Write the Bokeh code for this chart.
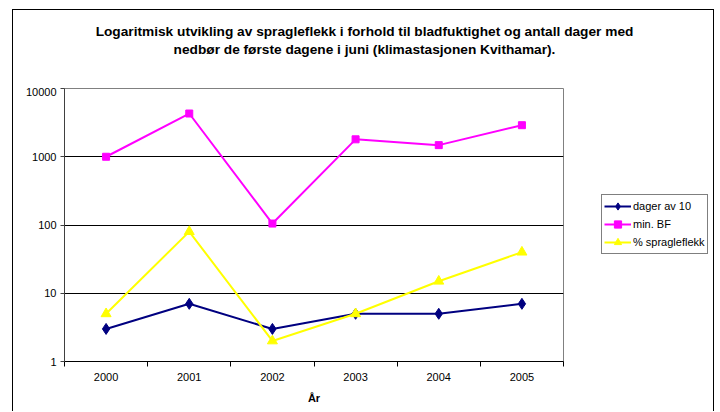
from bokeh.plotting import figure
from bokeh.models import FixedTicker, Label, Legend, LegendItem, Range1d
from bokeh.layouts import column, row
from bokeh.embed import file_html
from bokeh.resources import INLINE

years = ["2000", "2001", "2002", "2003", "2004", "2005"]
dager_av_10 = [3, 7, 3, 5, 5, 7]
min_bf = [1000, 4300, 105, 1800, 1480, 2900]
pct_spragleflekk = [5, 80, 2, 5, 15, 40]
y_ticks = [1, 10, 100, 1000, 10000]
y_labels = ["1", "10", "100", "1000", "10000"]
series_names = ["dager av 10", "min. BF", "% spragleflekk"]
title_lines = ["Logaritmisk utvikling av spragleflekk i forhold til bladfuktighet og antall dager med",
               "nedbør de første dagene i juni (klimastasjonen Kvithamar)."]
x_label = "År"

FONT = "Liberation Sans"
xs = [i + 0.5 for i in range(len(years))]
series = [dager_av_10, min_bf, pct_spragleflekk]
styles = [("#000080", "diamond", 11), ("#FF00FF", "square", 7), ("#FFFF00", "triangle", 10)]


def blank(width, height, x_range=(0, 1), y_range=(0, 1)):
    f = figure(width=width, height=height, output_backend="svg", toolbar_location=None,
               x_range=Range1d(*x_range), y_range=Range1d(*y_range),
               x_axis_location=None, y_axis_location=None,
               min_border=0, min_border_left=0, min_border_right=0,
               min_border_top=0, min_border_bottom=0)
    f.title = None
    f.outline_line_color = None
    f.xgrid.grid_line_color = None
    f.ygrid.grid_line_color = None
    f.background_fill_color = "white"
    f.border_fill_color = "white"
    return f


# ---- title strip
tf = blank(700, 77)
for i, t in enumerate(title_lines):
    tf.add_layout(Label(x=351, y=56 - 18 * i, x_units="screen", y_units="screen", text=t,
                        text_align="center", text_baseline="middle", text_font=FONT,
                        text_font_style="bold", text_font_size="13.7px", text_color="black"))

# ---- main chart
p = figure(width=551, height=324, output_backend="svg", toolbar_location=None,
           y_axis_type="log", x_range=Range1d(0, len(years)), y_range=Range1d(1, 10000),
           min_border_left=51, min_border_right=1, min_border_top=1, min_border_bottom=50)
p.title = None
p.background_fill_color = "white"
p.border_fill_color = "white"
p.outline_line_color = "#808080"
p.outline_line_width = 1

p.xaxis.ticker = FixedTicker(ticks=xs, minor_ticks=list(range(len(years) + 1)))
p.xaxis.major_label_overrides = {x: y for x, y in zip(xs, years)}
p.xaxis.major_tick_out = 0
p.xaxis.major_tick_in = 0
p.xaxis.minor_tick_out = 5
p.xaxis.minor_tick_in = 0
p.xaxis.minor_tick_line_color = "black"
p.xaxis.axis_line_color = "black"
p.xaxis.major_label_text_font = FONT
p.xaxis.major_label_text_font_size = "11px"
p.xaxis.major_label_text_color = "black"
p.xaxis.major_label_standoff = 6
p.xaxis.axis_label = x_label
p.xaxis.axis_label_text_font = FONT
p.xaxis.axis_label_text_font_style = "bold"
p.xaxis.axis_label_text_font_size = "11px"
p.xaxis.axis_label_text_color = "black"
p.xaxis.axis_label_standoff = 8

p.yaxis.ticker = FixedTicker(ticks=y_ticks, minor_ticks=[])
p.yaxis.major_label_overrides = {t: l for t, l in zip(y_ticks, y_labels)}
p.yaxis.major_tick_out = 4
p.yaxis.major_tick_in = 0
p.yaxis.minor_tick_line_color = None
p.yaxis.axis_line_color = "#404040"
p.yaxis.major_tick_line_color = "#404040"
p.yaxis.major_label_text_font = FONT
p.yaxis.major_label_text_font_size = "11px"
p.yaxis.major_label_text_color = "black"
p.yaxis.major_label_standoff = 4

p.xgrid.grid_line_color = None
p.ygrid.grid_line_color = "black"
p.ygrid.grid_line_width = 1

for vals, (col, mk, sz) in zip(series, styles):
    p.line(xs, vals, line_color=col, line_width=2)
    p.scatter(xs, vals, marker=mk, size=sz, fill_color=col, line_color=col)

# ---- legend strip (its renderers hold the series but lie outside its visible range)
lf = blank(149, 324, x_range=(-3, -2), y_range=(-3, -2))
items = []
for name, vals, (col, mk, sz) in zip(series_names, series, styles):
    lr = lf.line(xs, vals, line_color=col, line_width=2)
    sr = lf.scatter(xs, vals, marker=mk, size=sz, fill_color=col, line_color=col)
    items.append(LegendItem(label=name, renderers=[lr, sr]))
legend = Legend(items=items, location=(37, 107))
legend.label_text_font = FONT
legend.label_text_font_size = "11px"
legend.label_text_color = "black"
legend.glyph_width = 27
legend.glyph_height = 18
legend.label_height = 18
legend.spacing = 0
legend.padding = 2
legend.margin = 0
legend.label_standoff = 2
legend.border_line_color = "black"
legend.border_line_width = 1
legend.background_fill_color = "white"
lf.add_layout(legend)

layout = column(tf, row(p, lf),
                styles={"border": "1px solid black", "border-bottom": "none",
                        "margin-left": "12px", "margin-top": "9px"})

open("out.html", "w").write(file_html(layout, INLINE))
